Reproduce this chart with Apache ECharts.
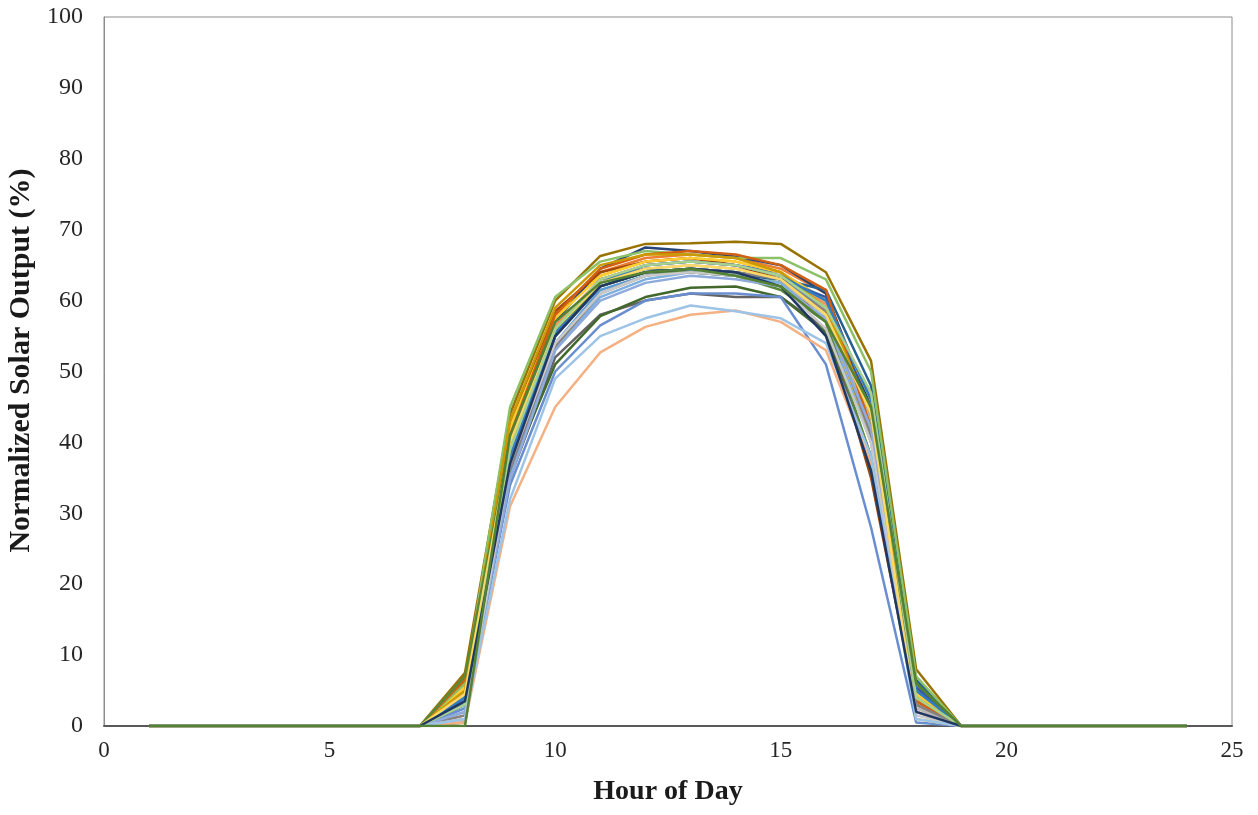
<!DOCTYPE html>
<html>
<head>
<meta charset="utf-8">
<title>Normalized Solar Output</title>
<script src="https://cdn.jsdelivr.net/npm/echarts@6/dist/echarts.min.js"></script>
<style>
  html, body { margin: 0; padding: 0; background: #fff; }
  #chart { width: 1258px; height: 815px; }
</style>
</head>
<body>
<div id="chart"></div>
<script>
// hours of the day (x values)
const hours = [1, 2, 3, 4, 5, 6, 7, 8, 9, 10, 11, 12, 13, 14, 15, 16, 17, 18, 19, 20, 21, 22, 23, 24]

// one array per profile, values for hours 1..24 (%)
const p01 = [0, 0, 0, 0, 0, 0, 0, 3, 38, 56, 63, 65, 65.5, 65, 64, 60, 43, 4, 0, 0, 0, 0, 0, 0]
const p02 = [0, 0, 0, 0, 0, 0, 0, 1, 40, 58, 64, 66, 66.5, 66, 64.5, 61, 44, 3, 0, 0, 0, 0, 0, 0]
const p03 = [0, 0, 0, 0, 0, 0, 0, 2, 37, 55, 62.5, 64.5, 65, 64.5, 63.5, 59, 45, 5, 0, 0, 0, 0, 0, 0]
const p04 = [0, 0, 0, 0, 0, 0, 0, 5, 42, 58, 63.5, 65.5, 66, 65.5, 64, 58, 40, 2, 0, 0, 0, 0, 0, 0]
const p05 = [0, 0, 0, 0, 0, 0, 0, 3.5, 36, 54, 61.5, 63.5, 64.5, 64, 63, 59, 42, 3.5, 0, 0, 0, 0, 0, 0]
const p06 = [0, 0, 0, 0, 0, 0, 0, 6.5, 38, 55, 62, 64, 64.5, 64, 62.5, 58, 47, 6, 0, 0, 0, 0, 0, 0]
const p07 = [0, 0, 0, 0, 0, 0, 0, 4, 39, 57, 64.5, 67.5, 67, 66.2, 65, 61, 45, 5, 0, 0, 0, 0, 0, 0]
const p08 = [0, 0, 0, 0, 0, 0, 0, 7, 43, 58.5, 64, 65.5, 66, 65, 63, 57, 35, 3, 0, 0, 0, 0, 0, 0]
const p09 = [0, 0, 0, 0, 0, 0, 0, 0.5, 35, 52, 58, 60, 61, 60.5, 60.5, 56, 38, 3, 0, 0, 0, 0, 0, 0]
const p10 = [0, 0, 0, 0, 0, 0, 0, 7.5, 44, 60, 66.3, 68, 68.1, 68.3, 68, 64, 51.5, 8, 0, 0, 0, 0, 0, 0]
const p11 = [0, 0, 0, 0, 0, 0, 0, 4.5, 37, 56, 63, 64.5, 64, 63.5, 63, 61.5, 48, 6.5, 0, 0, 0, 0, 0, 0]
const p12 = [0, 0, 0, 0, 0, 0, 0, 6, 36, 51, 57.8, 60.5, 61.8, 62, 60.5, 55.5, 36, 4, 0, 0, 0, 0, 0, 0]
const p13 = [0, 0, 0, 0, 0, 0, 0, 2.5, 34, 50, 56.5, 60, 61, 61, 60.5, 51, 28, 0.5, 0, 0, 0, 0, 0, 0]
const p14 = [0, 0, 0, 0, 0, 0, 0, 1.5, 39, 56.5, 63, 65, 65.5, 65, 63.5, 59.5, 46, 3, 0, 0, 0, 0, 0, 0]
const p15 = [0, 0, 0, 0, 0, 0, 0, 1, 38, 55, 62, 64, 64.5, 63.5, 62.5, 58, 43, 2.5, 0, 0, 0, 0, 0, 0]
const p16 = [0, 0, 0, 0, 0, 0, 0, 5.5, 42, 57.5, 63.5, 65.5, 66, 65.5, 64, 60, 46, 4.5, 0, 0, 0, 0, 0, 0]
const p17 = [0, 0, 0, 0, 0, 0, 0, 2, 35, 53, 60.5, 63, 64, 63.5, 62.5, 57, 40, 2, 0, 0, 0, 0, 0, 0]
const p18 = [0, 0, 0, 0, 0, 0, 0, 6, 45, 60.5, 65.5, 67, 66.5, 66, 66, 63, 50, 7, 0, 0, 0, 0, 0, 0]
const p19 = [0, 0, 0, 0, 0, 0, 0, 3, 37, 55, 62, 64, 64.5, 64, 63, 60.5, 44, 5.5, 0, 0, 0, 0, 0, 0]
const p20 = [0, 0, 0, 0, 0, 0, 0, 6.5, 41, 58, 64.5, 66.5, 67, 66.5, 65, 61.5, 42, 3.5, 0, 0, 0, 0, 0, 0]
const p21 = [0, 0, 0, 0, 0, 0, 0, 1.5, 36, 53.5, 61, 63.5, 64.5, 64, 63, 58.5, 41, 3, 0, 0, 0, 0, 0, 0]
const p22 = [0, 0, 0, 0, 0, 0, 0, 5, 43, 59, 65, 66.5, 66.5, 66, 64, 59, 44, 4, 0, 0, 0, 0, 0, 0]
const p23 = [0, 0, 0, 0, 0, 0, 0, 4, 38, 55.5, 62.5, 65, 65.5, 65, 63.5, 60, 46, 5, 0, 0, 0, 0, 0, 0]
const p24 = [0, 0, 0, 0, 0, 0, 0, 7, 40, 56, 62, 64, 64, 63.5, 61.5, 57, 38, 6, 0, 0, 0, 0, 0, 0]
const p25 = [0, 0, 0, 0, 0, 0, 0, 2, 35, 53, 60, 62.5, 63.5, 63, 62, 57.5, 42, 2, 0, 0, 0, 0, 0, 0]
const p26 = [0, 0, 0, 0, 0, 0, 0, 0.5, 31, 45, 52.7, 56.3, 58, 58.6, 57, 53, 37, 2, 0, 0, 0, 0, 0, 0]
const p27 = [0, 0, 0, 0, 0, 0, 0, 1, 37, 54, 61, 63.5, 64, 63.5, 62, 56, 40, 1.5, 0, 0, 0, 0, 0, 0]
const p28 = [0, 0, 0, 0, 0, 0, 0, 4.5, 40, 56, 62.5, 64.5, 65, 64.5, 63, 58, 44, 1, 0, 0, 0, 0, 0, 0]
const p29 = [0, 0, 0, 0, 0, 0, 0, 1, 32, 49, 55, 57.5, 59.3, 58.5, 57.5, 54, 38, 1, 0, 0, 0, 0, 0, 0]
const p30 = [0, 0, 0, 0, 0, 0, 0, 3, 39, 56, 63, 65, 65.5, 65, 63.5, 59, 47, 4, 0, 0, 0, 0, 0, 0]
const p31 = [0, 0, 0, 0, 0, 0, 0, 3.5, 37, 55, 62, 64, 64.5, 64, 62, 55, 36, 2, 0, 0, 0, 0, 0, 0]
const p32 = [0, 0, 0, 0, 0, 0, 0, 0, 41, 57, 62.5, 64, 64.5, 63.5, 62, 57, 45, 6, 0, 0, 0, 0, 0, 0]

const profiles = [p01, p02, p03, p04, p05, p06, p07, p08, p09, p10, p11, p12, p13, p14, p15, p16,
  p17, p18, p19, p20, p21, p22, p23, p24, p25, p26, p27, p28, p29, p30, p31, p32]

// office palette, in series order
const colors = ['#4472C4', '#ED7D31', '#A5A5A5', '#FFC000', '#5B9BD5', '#70AD47', '#264478', '#9E480E',
  '#636363', '#997300', '#255E91', '#43682B', '#698ED0', '#F1975A', '#B7B7B7', '#FFCD33',
  '#7CAFDD', '#8CC168', '#335AA1', '#D26012', '#848484', '#CC9A00', '#327DC2', '#5A8A39',
  '#8FAADC', '#F4B183', '#C9C9C9', '#FFD966', '#9DC3E6', '#A9D18E', '#203864', '#548235']

const xTicks = [0, 5, 10, 15, 20, 25]
const yTicks = [0, 10, 20, 30, 40, 50, 60, 70, 80, 90, 100]

const fontFamily = '"Liberation Serif", "Times New Roman", serif'

const chart = echarts.init(document.getElementById('chart'))

const seriesConfig = profiles.map((vals, i) => ({
  name: 'Profile ' + (i + 1),
  type: 'line',
  data: hours.map((h, j) => [h, vals[j]]),
  showSymbol: false,
  symbol: 'none',
  lineStyle: { width: 2.5, color: colors[i] },
  itemStyle: { color: colors[i] },
  animation: false
}))

chart.setOption({
  animation: false,
  grid: {
    left: 104,
    right: 26,
    top: 17,
    bottom: 89,
    outerBoundsMode: 'none',
    containLabel: false,
    show: true,
    borderColor: '#8c8c8c',
    borderWidth: 1
  },
  xAxis: {
    type: 'value',
    min: xTicks[0],
    max: xTicks[xTicks.length - 1],
    interval: 5,
    name: 'Hour of Day',
    nameLocation: 'middle',
    nameGap: 52,
    nameTextStyle: { fontFamily, fontSize: 28, fontWeight: 'bold', color: '#1a1a1a' },
    axisLine: { show: true, lineStyle: { color: '#595959', width: 2 } },
    axisTick: { show: false },
    splitLine: { show: false },
    axisLabel: { fontFamily, fontSize: 23, color: '#262626', margin: 13 }
  },
  yAxis: {
    type: 'value',
    min: yTicks[0],
    max: yTicks[yTicks.length - 1],
    interval: 10,
    name: 'Normalized Solar Output (%)',
    nameLocation: 'middle',
    nameGap: 67,
    nameTextStyle: { fontFamily, fontSize: 30, fontWeight: 'bold', color: '#1a1a1a', padding: [0, 0, 0, 22] },
    axisLine: { show: true, lineStyle: { color: '#8c8c8c', width: 1 } },
    axisTick: { show: false },
    splitLine: { show: false },
    axisLabel: { fontFamily, fontSize: 24, color: '#262626', margin: 21 }
  },
  series: seriesConfig
})
</script>
</body>
</html>
